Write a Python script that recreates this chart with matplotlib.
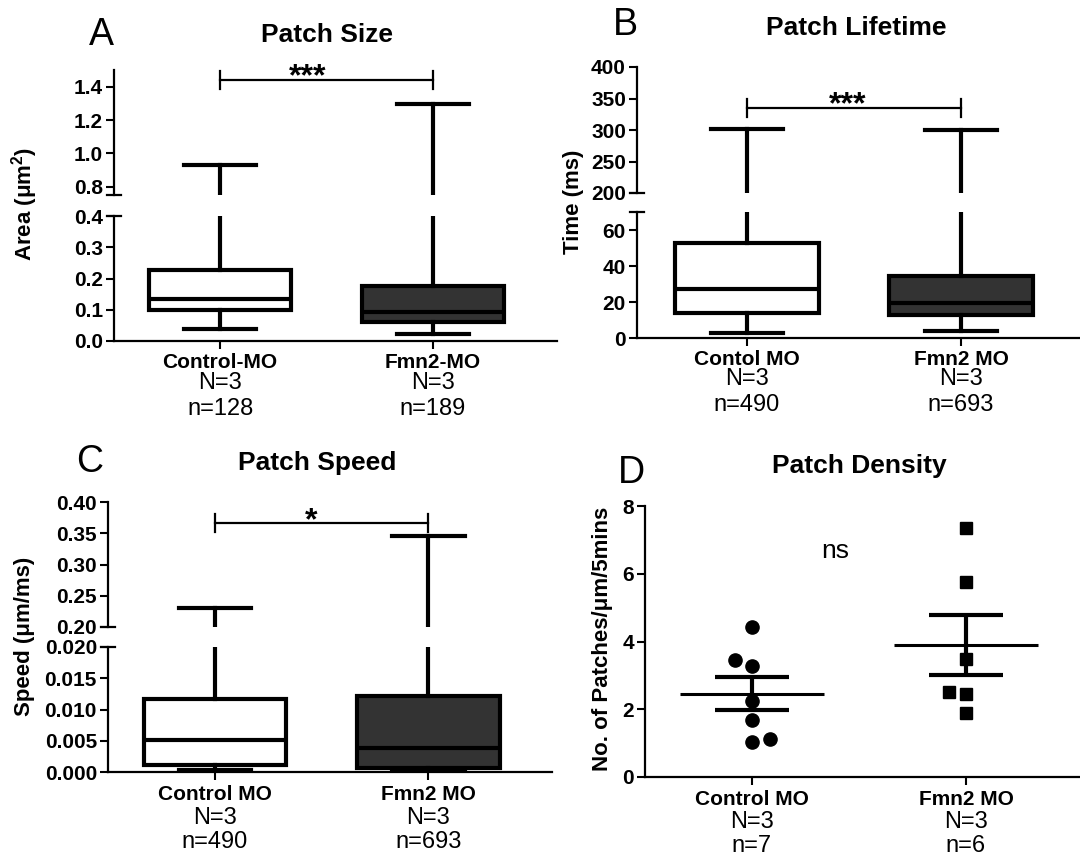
import matplotlib
matplotlib.use('Agg')
import matplotlib.pyplot as plt
from matplotlib.ticker import FormatStrFormatter
import numpy as np

plt.rcParams['font.family'] = ['Liberation Sans', 'DejaVu Sans']
plt.rcParams['font.weight'] = 'bold'
plt.rcParams['mathtext.fontset'] = 'custom'
plt.rcParams['mathtext.rm'] = 'Liberation Sans:bold'
plt.rcParams['mathtext.bf'] = 'Liberation Sans:bold'

# ---------------- data ----------------
# A - patch size (um^2)
size_groups = ['Control-MO', 'Fmn2-MO']
size_N = ['N=3', 'N=3']
size_n = ['n=128', 'n=189']
size_whislo = [0.037, 0.024]
size_q1 = [0.100, 0.060]
size_med = [0.133, 0.093]
size_q3 = [0.226, 0.175]
size_whishi = [0.928, 1.294]
size_sig = '***'
size_sig_y = 1.442

# B - patch lifetime (ms)
life_groups = ['Contol MO', 'Fmn2 MO']
life_N = ['N=3', 'N=3']
life_n = ['n=490', 'n=693']
life_whislo = [2.8, 3.8]
life_q1 = [13.7, 12.7]
life_med = [27.3, 19.6]
life_q3 = [52.9, 34.2]
life_whishi = [301.0, 299.5]
life_sig = '***'
life_sig_y = 335.5

# C - patch speed (um/ms)
speed_groups = ['Control MO', 'Fmn2 MO']
speed_N = ['N=3', 'N=3']
speed_n = ['n=490', 'n=693']
speed_whislo = [0.0003, 0.0003]
speed_q1 = [0.00107, 0.00064]
speed_med = [0.00507, 0.00384]
speed_q3 = [0.01174, 0.0121]
speed_whishi = [0.2304, 0.3456]
speed_sig = '*'
speed_sig_y = 0.366

# D - patch density
dens_groups = ['Control MO', 'Fmn2 MO']
dens_N = ['N=3', 'N=3']
dens_n = ['n=7', 'n=6']
dens_ctrl = [4.42, 3.46, 3.28, 2.25, 1.69, 1.02, 1.13]
dens_fmn2 = [7.34, 5.75, 3.48, 2.51, 2.45, 1.89]
dens_sig = 'ns'

# horizontal jitter of the scatter points (layout only)
ctrl_dx = [0, -0.08, 0, 0, 0, 0, 0.083]
fmn2_dx = [0, 0, 0, -0.08, 0, 0]

fills = ['white', '#333333']

W, H = 1080, 857
fig = plt.figure(figsize=(W / 100, H / 100), dpi=100)


def box(l, t, r, b):
    # pixel box -> figure fraction rect
    return [l / W, 1 - b / H, (r - l) / W, (b - t) / H]


def style(ax, bottom=True):
    ax.spines['top'].set_visible(False)
    ax.spines['right'].set_visible(False)
    ax.spines['left'].set_linewidth(1.6)
    ax.spines['bottom'].set_linewidth(1.6)
    ax.tick_params(axis='y', length=6, width=1.5, labelsize=15, pad=2)
    ax.tick_params(axis='x', length=6, width=1.5, labelbottom=False)
    if not bottom:
        ax.spines['bottom'].set_visible(False)
        ax.tick_params(axis='x', bottom=False)
    ax.patch.set_alpha(0)


def under_labels(ax, names, Ns, ns, offs):
    for i in range(len(names)):
        rows = [(names[i], offs[0], 'bold', 15),
                (Ns[i], offs[1], 'normal', 17),
                (ns[i], offs[2], 'normal', 17)]
        for txt, off, wt, fs in rows:
            ax.annotate(txt, xy=(i + 1, 0), xycoords=('data', 'axes fraction'),
                        xytext=(0, -off * 0.72), textcoords='offset points',
                        ha='center', va='baseline', fontsize=fs, fontweight=wt,
                        annotation_clip=False)


def broken_panel(r_lo, r_hi, xlim, lo_lim, hi_lim, lo_ticks, hi_ticks, fmt_lo, fmt_hi,
                 whislo, q1, med, q3, whishi, sig, sig_y, sig_x,
                 groups, Ns, ns, offs):
    ax_lo = fig.add_axes(box(*r_lo))
    ax_hi = fig.add_axes(box(*r_hi))
    stats = [dict(whislo=whislo[i], q1=q1[i], med=med[i], q3=q3[i],
                  whishi=whishi[i], fliers=[]) for i in range(len(med))]
    for ax in (ax_lo, ax_hi):
        parts = ax.bxp(stats, positions=[1, 2], widths=0.67, capwidths=0.34,
                       patch_artist=True, showfliers=False,
                       boxprops=dict(linewidth=3, edgecolor='black'),
                       medianprops=dict(color='black', linewidth=3),
                       whiskerprops=dict(color='black', linewidth=3),
                       capprops=dict(color='black', linewidth=3))
        for p, c in zip(parts['boxes'], fills):
            p.set_facecolor(c)
        ax.set_xlim(*xlim)
        ax.set_xticks([1, 2])
    ax_lo.set_ylim(*lo_lim)
    ax_hi.set_ylim(*hi_lim)
    ax_lo.set_yticks(lo_ticks)
    ax_hi.set_yticks(hi_ticks)
    ax_lo.yaxis.set_major_formatter(FormatStrFormatter(fmt_lo))
    ax_hi.yaxis.set_major_formatter(FormatStrFormatter(fmt_hi))
    style(ax_lo)
    style(ax_hi, bottom=False)
    # break marks
    ax_hi.plot([-0.016, 0.016], [0, 0], transform=ax_hi.transAxes, color='black',
               lw=1.6, clip_on=False)
    ax_lo.plot([-0.016, 0.016], [1, 1], transform=ax_lo.transAxes, color='black',
               lw=1.6, clip_on=False)
    # significance bar
    d = 0.072 * (hi_lim[1] - hi_lim[0])
    ax_hi.plot([1, 2], [sig_y, sig_y], color='black', lw=1.6, clip_on=False)
    for x in (1, 2):
        ax_hi.plot([x, x], [sig_y - d, sig_y + d], color='black', lw=1.6, clip_on=False)
    ax_hi.annotate(sig, xy=(sig_x, sig_y), xytext=(0, -4), textcoords='offset points',
                   ha='center', va='baseline', fontsize=23, annotation_clip=False)
    under_labels(ax_lo, groups, Ns, ns, offs)
    return ax_lo, ax_hi


# A
broken_panel((114, 216, 557, 341), (114, 70, 557, 195), (0.502, 2.582),
             (0, 0.4), (0.75, 1.5), [0, 0.1, 0.2, 0.3, 0.4], [0.8, 1.0, 1.2, 1.4],
             '%.1f', '%.1f',
             size_whislo, size_q1, size_med, size_q3, size_whishi,
             size_sig, size_sig_y, 1.41,
             size_groups, size_N, size_n, (27, 48, 74))

# B
broken_panel((637, 212, 1080, 338), (637, 67, 1080, 193), (0.486, 2.556),
             (0, 70), (200, 400), [0, 20, 40, 60], [200, 250, 300, 350, 400],
             '%d', '%d',
             life_whislo, life_q1, life_med, life_q3, life_whishi,
             life_sig, life_sig_y, 1.47,
             life_groups, life_N, life_n, (27, 47, 73))

# C
broken_panel((108, 647, 552, 772), (108, 502, 552, 627), (0.498, 2.58),
             (0, 0.02), (0.2, 0.4), [0, 0.005, 0.01, 0.015, 0.02],
             [0.2, 0.25, 0.3, 0.35, 0.4],
             '%.3f', '%.2f',
             speed_whislo, speed_q1, speed_med, speed_q3, speed_whishi,
             speed_sig, speed_sig_y, 1.45,
             speed_groups, speed_N, speed_n, (28, 52, 76))

# D
axd = fig.add_axes(box(645, 506, 1080, 777))
axd.plot(1 + np.array(ctrl_dx), dens_ctrl, 'o', color='black', ms=9.5)
axd.plot(2 + np.array(fmn2_dx), dens_fmn2, 's', color='black', ms=8)
for x, vals in [(1, dens_ctrl), (2, dens_fmn2)]:
    m = np.mean(vals)
    s = np.std(vals, ddof=1) / np.sqrt(len(vals))
    axd.hlines(m, x - 0.337, x + 0.337, color='black', lw=2.2)
    axd.hlines([m - s, m + s], x - 0.174, x + 0.174, color='black', lw=3)
    axd.vlines(x, m - s, m + s, color='black', lw=3)
axd.set_xlim(0.5, 2.533)
axd.set_ylim(0, 8)
axd.set_xticks([1, 2])
axd.set_yticks([0, 2, 4, 6, 8])
style(axd)
axd.text(1.39, 6.46, dens_sig, ha='center', va='baseline', fontsize=19,
         fontweight='normal')
under_labels(axd, dens_groups, dens_N, dens_n, (28, 51, 75))

# titles, panel letters and y labels
titles = [('Patch Size', 327, 42), ('Patch Lifetime', 856, 35),
          ('Patch Speed', 317, 470), ('Patch Density', 859, 473)]
for t, x, y in titles:
    fig.text(x / W, 1 - y / H, t, ha='center', va='baseline', fontsize=19,
             fontweight='bold')

letters = [('A', 89, 45), ('B', 613, 35), ('C', 76, 472), ('D', 618, 483)]
for t, x, y in letters:
    fig.text(x / W, 1 - y / H, t, ha='left', va='baseline', fontsize=27,
             fontweight='normal')

ylabels = [(r'Area (μm$^{2}$)', 25, 204), ('Time (ms)', 573, 202),
           ('Speed (μm/ms)', 25, 636), ('No. of Patches/μm/5mins', 602, 639)]
for t, x, y in ylabels:
    fig.text(x / W, 1 - y / H, t, ha='center', va='center', rotation=90,
             fontsize=16, fontweight='bold')

fig.savefig('out.png', dpi=100)
